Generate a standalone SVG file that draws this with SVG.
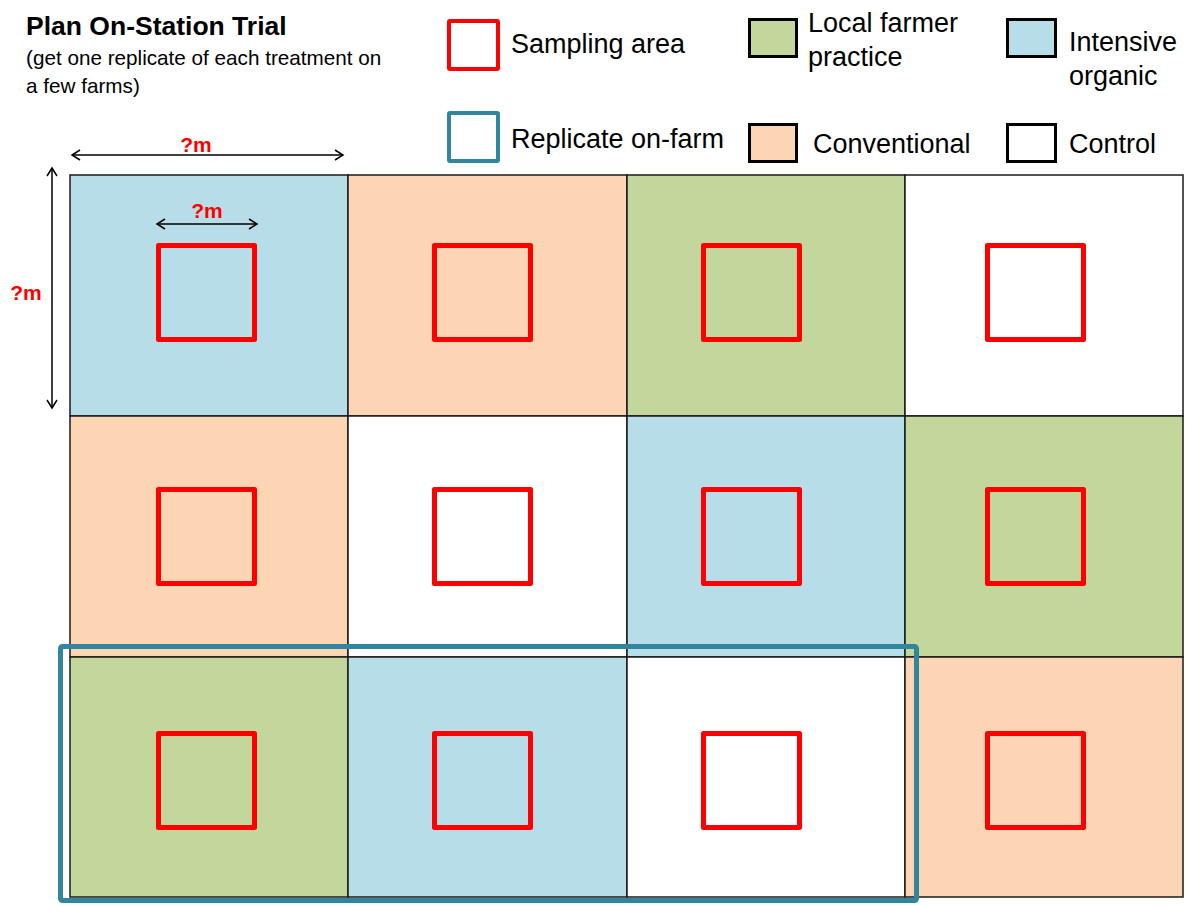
<svg xmlns="http://www.w3.org/2000/svg" width="1185" height="906" viewBox="0 0 1185 906">
<defs>
<marker id="chev" viewBox="-10 -6 12 12" markerWidth="12" markerHeight="12" refX="0" refY="0" orient="auto-start-reverse" markerUnits="userSpaceOnUse">
<path d="M-8,-5 L0,0 L-8,5" fill="none" stroke="#000" stroke-width="1.5"/>
</marker>
<style>
.cell{stroke:#1a1a1a;stroke-width:1.5}
.io{fill:#B7DDE8}
.cv{fill:#FCD5B5}
.lf{fill:#C3D69B}
.ct{fill:#FFFFFF}
.samp{fill:none;stroke:#FF0000;stroke-width:5;stroke-linejoin:round}
.lg{stroke:#000;stroke-width:3}
.txt{font-family:"Liberation Sans",Arial,sans-serif;fill:#000}
.lab{font-size:27px}
.dim{font-family:"Liberation Sans",Arial,sans-serif;font-weight:bold;font-size:21px;fill:#FF0000;text-anchor:middle}
.arr{stroke:#000;stroke-width:1.5;fill:none}
</style>
</defs>
<rect width="1185" height="906" fill="#FFFFFF"/>
<g id="title">
<text class="txt" x="26" y="35" font-size="26.5" font-weight="bold">Plan On-Station Trial</text>
<text class="txt" x="26" y="65" font-size="20.7">(get one replicate of each treatment on</text>
<text class="txt" x="26" y="93" font-size="20.7">a few farms)</text>
</g>
<g id="legend">
<g id="legend-sampling"><rect x="449" y="21" width="49" height="48" fill="#fff" stroke="#FF0000" stroke-width="4" rx="1"/><text class="txt lab" x="511" y="53">Sampling area</text></g>
<g id="legend-replicate"><rect x="449" y="113" width="49" height="48" fill="#fff" stroke="#31859C" stroke-width="4" rx="1"/><text class="txt lab" x="511" y="148">Replicate on-farm</text></g>
<g id="legend-local"><rect class="lg lf" x="749.5" y="19.5" width="47" height="37"/><text class="txt lab" x="808" y="32">Local farmer</text><text class="txt lab" x="808" y="66">practice</text></g>
<g id="legend-intensive"><rect class="lg io" x="1007.5" y="19.5" width="48" height="37"/><text class="txt lab" x="1069" y="51">Intensive</text><text class="txt lab" x="1069" y="85">organic</text></g>
<g id="legend-conventional"><rect class="lg cv" x="749.5" y="124.5" width="47" height="37"/><text class="txt lab" x="813" y="153">Conventional</text></g>
<g id="legend-control"><rect class="lg ct" x="1007.5" y="124.5" width="48" height="37"/><text class="txt lab" x="1069" y="153">Control</text></g>
</g>
<g id="plots">
<g id="plot-r1c1"><rect class="cell io" x="70" y="175" width="278" height="241"/><rect class="samp" x="158.5" y="245.5" width="96" height="94"/></g>
<g id="plot-r1c2"><rect class="cell cv" x="348" y="175" width="279" height="241"/><rect class="samp" x="434.5" y="245.5" width="96" height="94"/></g>
<g id="plot-r1c3"><rect class="cell lf" x="627" y="175" width="278" height="241"/><rect class="samp" x="703.5" y="245.5" width="96" height="94"/></g>
<g id="plot-r1c4"><rect class="cell ct" x="905" y="175" width="278" height="241"/><rect class="samp" x="987.5" y="245.5" width="96" height="94"/></g>
<g id="plot-r2c1"><rect class="cell cv" x="70" y="416" width="278" height="241"/><rect class="samp" x="158.5" y="489.5" width="96" height="94"/></g>
<g id="plot-r2c2"><rect class="cell ct" x="348" y="416" width="279" height="241"/><rect class="samp" x="434.5" y="489.5" width="96" height="94"/></g>
<g id="plot-r2c3"><rect class="cell io" x="627" y="416" width="278" height="241"/><rect class="samp" x="703.5" y="489.5" width="96" height="94"/></g>
<g id="plot-r2c4"><rect class="cell lf" x="905" y="416" width="278" height="241"/><rect class="samp" x="987.5" y="489.5" width="96" height="94"/></g>
<g id="plot-r3c1"><rect class="cell lf" x="70" y="657" width="278" height="240"/><rect class="samp" x="158.5" y="733.5" width="96" height="94"/></g>
<g id="plot-r3c2"><rect class="cell io" x="348" y="657" width="279" height="240"/><rect class="samp" x="434.5" y="733.5" width="96" height="94"/></g>
<g id="plot-r3c3"><rect class="cell ct" x="627" y="657" width="278" height="240"/><rect class="samp" x="703.5" y="733.5" width="96" height="94"/></g>
<g id="plot-r3c4"><rect class="cell cv" x="905" y="657" width="278" height="240"/><rect class="samp" x="987.5" y="733.5" width="96" height="94"/></g>
</g>
<g id="replicate-on-farm"><rect x="60.5" y="646.5" width="856" height="254" fill="none" stroke="#31859C" stroke-width="5" rx="2"/></g>
<g id="connectors">
<line class="arr" x1="72" y1="155" x2="343" y2="155" marker-start="url(#chev)" marker-end="url(#chev)"/>
<line class="arr" x1="52" y1="168" x2="52" y2="408" marker-start="url(#chev)" marker-end="url(#chev)"/>
<line class="arr" x1="157" y1="224" x2="257" y2="224" marker-start="url(#chev)" marker-end="url(#chev)"/>
</g>
<g id="dimensions">
<text class="dim" x="196" y="152">?m</text>
<text class="dim" x="26" y="300">?m</text>
<text class="dim" x="207" y="218">?m</text>
</g>
</svg>
